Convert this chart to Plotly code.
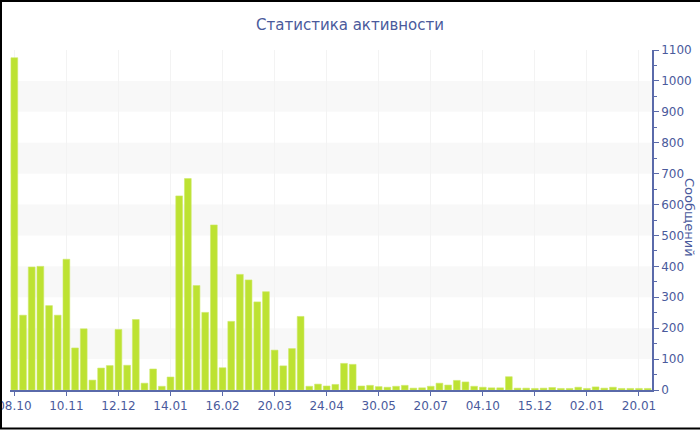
import plotly.graph_objects as go

title_text = "Статистика активности"
y_title = "Сообщений"

values = [1075, 242, 398, 400, 273, 242, 423, 136, 198, 32,
          71, 79, 196, 80, 228, 22, 68, 12, 42, 628,
          684, 338, 251, 534, 72, 222, 374, 356, 285, 318,
          129, 78, 134, 238, 12, 19, 13, 18, 86, 83,
          13, 15, 11, 9, 12, 15, 6, 7, 12, 22,
          16, 31, 26, 12, 9, 7, 7, 43, 6, 6,
          5, 6, 8, 5, 5, 9, 5, 10, 6, 9,
          5, 5, 5, 5]
positions = list(range(len(values)))

tick_labels = ["08.10", "10.11", "12.12", "14.01", "16.02", "20.03", "24.04",
               "30.05", "20.07", "04.10", "15.12", "02.01", "20.01"]
tick_step = 6
tick_positions = [i * tick_step for i in range(len(tick_labels))]

band_starts = [100, 300, 500, 700, 900]
band_height = 100

W, H = 700, 430
L, R, T, B = 10, 48, 50, 40
TXT = "#4a5a9c"
LINE = "#5a6aaa"
FONT = "DejaVu Sans"

fig = go.Figure()
fig.add_trace(go.Bar(
    x=positions, y=values,
    marker=dict(color="#bde232", line=dict(color="#cfea6a", width=0.6)),
    hoverinfo="x+y",
))

shapes = []
for s in band_starts:
    shapes.append(dict(type="rect", xref="paper", yref="y", x0=0, x1=1,
                       y0=s, y1=s + band_height, fillcolor="#f8f8f8",
                       line=dict(width=0), layer="below"))
pw = W - L - R
ph = H - T - B
def px_x(p):
    return (p - L) / pw
def px_y(p):
    return (H - B - p) / ph
shapes.append(dict(type="rect", xref="paper", yref="paper",
                   x0=px_x(1), x1=px_x(703), y0=px_y(1), y1=px_y(428.5),
                   line=dict(color="black", width=2), fillcolor="rgba(0,0,0,0)",
                   layer="above"))

fig.update_layout(
    width=W, height=H,
    margin=dict(l=L, r=R, t=T, b=B, autoexpand=False),
    paper_bgcolor="white", plot_bgcolor="white",
    bargap=0.22,
    showlegend=False,
    font=dict(family=FONT, color=TXT, size=12),
    title=dict(text=title_text, x=0.5, xref="container", xanchor="center",
               y=1 - 25 / H, yanchor="middle", yref="container",
               font=dict(family=FONT, size=15, color=TXT)),
    shapes=shapes,
    xaxis=dict(
        range=[-0.5, len(values) - 0.5], automargin=False,
        tickmode="array", tickvals=tick_positions, ticktext=tick_labels,
        showline=True, linecolor=LINE, linewidth=1.5,
        ticks="outside", ticklen=4, tickcolor=LINE,
        showgrid=True, gridcolor="#f3f3f3", gridwidth=1,
        zeroline=False, ticklabeloverflow="allow",
        tickfont=dict(family=FONT, size=12, color=TXT),
    ),
    yaxis=dict(
        side="right", range=[0, 1100], dtick=100, tick0=0, automargin=False,
        showline=True, linecolor=LINE, linewidth=1.5,
        ticks="outside", ticklen=5, tickcolor=LINE,
        minor=dict(dtick=50, ticks="outside", ticklen=3, tickcolor=LINE, showgrid=False),
        showgrid=False, zeroline=False, ticklabeloverflow="allow",
        tickfont=dict(family=FONT, size=12, color=TXT),
        ticklabelstandoff=0,
    ),
    annotations=[dict(text=y_title, xref="paper", yref="paper",
                      x=px_x(690), y=px_y(218), textangle=90, showarrow=False,
                      xanchor="center", yanchor="middle",
                      font=dict(family=FONT, size=13, color=TXT))],
)

fig.write_html("out.html", config={"displayModeBar": False},
               post_script="document.body.style.margin='0px';document.body.style.overflow='hidden';")
